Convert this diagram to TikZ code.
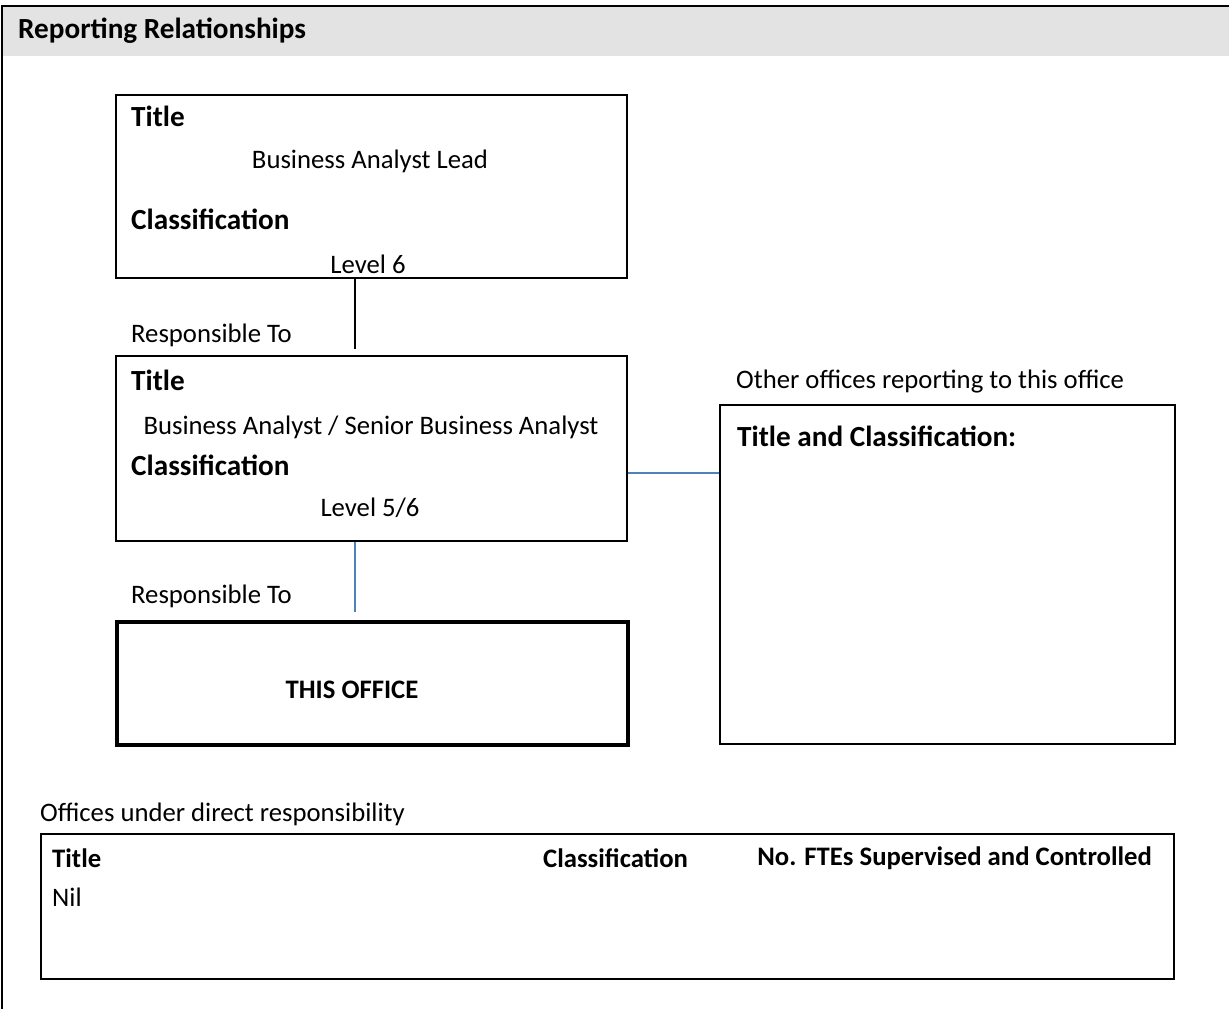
\documentclass[tikz,border=0pt]{standalone}
\usepackage{fontspec}
\setmainfont{Carlito}
\definecolor{hdrgray}{HTML}{E3E3E3}
\definecolor{linkblue}{HTML}{4F81BD}
\tikzset{
  x=1pt, y=-1pt,
  txt/.style={inner sep=0pt, font=\fontsize{26.7}{31}\selectfont},
  btxt/.style={inner sep=0pt, font=\fontsize{29.2}{34}\selectfont\bfseries},
  sbtxt/.style={inner sep=0pt, font=\fontsize{26.7}{31}\selectfont\bfseries},
  box/.style={draw=black, line width=2pt},
  thickbox/.style={draw=black, line width=4pt},
  blackline/.style={draw=black, line width=2pt},
  blueline/.style={draw=linkblue, line width=1.6pt},
}
\begin{document}
\begin{tikzpicture}
\useasboundingbox (0,0) rectangle (1229,1009);
% header and frame
\fill[hdrgray] (3,7) rectangle (1229,56);
\draw[line width=2.5pt] (2,1009) -- (2,6) -- (1229,6);
\node[btxt, anchor=west] (hdr) at (18,31) {Reporting Relationships};

% box 1
\node[box, minimum width=511pt, minimum height=183pt, inner sep=0pt, anchor=north west] (b1) at (115,94) {};
\node[btxt, anchor=west] (b1t) at (131,116) {Title};
\node[txt] (b1tv) at (370,161) {Business Analyst Lead};
\node[btxt, anchor=west] (b1c) at (131,219) {Classification};
\node[txt] (b1cv) at (368,264) {Level 6};

% box 2
\node[box, minimum width=511pt, minimum height=185pt, inner sep=0pt, anchor=north west] (b2) at (115,355) {};
\node[btxt, anchor=west] (b2t) at (131,380) {Title};
\node[txt] (b2tv) at (371,427) {Business Analyst / Senior Business Analyst};
\node[btxt, anchor=west] (b2c) at (131,465) {Classification};
\node[txt] (b2cv) at (370,508) {Level 5/6};
\node[txt, anchor=west] (r1) at (131,335) {Responsible To};

% this office
\node[thickbox, minimum width=511pt, minimum height=123pt, inner sep=0pt, anchor=north west] (b3) at (115,620) {};
\node[sbtxt] (b3t) at (352,690) {THIS OFFICE};
\node[txt, anchor=west] (r2) at (131,596) {Responsible To};

% other offices
\node[box, minimum width=455pt, minimum height=339pt, inner sep=0pt, anchor=north west] (b4) at (719,404) {};
\node[btxt, anchor=west] (b4t) at (737,436) {Title and Classification:};
\node[txt, anchor=west] (oth) at (736,382) {Other offices reporting to this office};

% connectors
\coordinate (c1) at (355,349);
\coordinate (c2) at (355,612);
\draw[blackline] (b1.south -| c1) -- (c1);
\draw[blueline] (b2.south -| c2) -- (c2);
\draw[blueline] (b2.east |- 0,473) -- (b4.west |- 0,473);

% offices under direct responsibility
\node[txt, anchor=west] (odr) at (40,814) {Offices under direct responsibility};
\node[box, minimum width=1133pt, minimum height=145pt, inner sep=0pt, anchor=north west] (b5) at (40,833) {};
\node[sbtxt, anchor=west] (h1) at (52,858) {Title};
\node[sbtxt, anchor=west] (h2) at (543,858) {Classification};
\node[sbtxt, anchor=east] (h3) at (1152,858) {No. FTEs Supervised and Controlled};
\node[txt, anchor=west] (nil) at (52,897) {Nil};
\end{tikzpicture}
\end{document}
